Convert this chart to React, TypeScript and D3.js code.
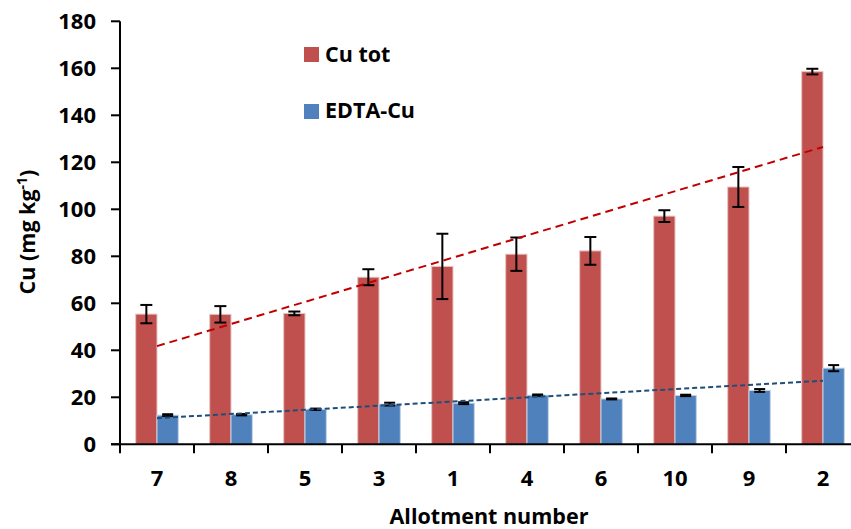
import React from "react";
import * as d3 from "d3";

const categories = ["7", "8", "5", "3", "1", "4", "6", "10", "9", "2"];
const cuTot = [55.4, 55.3, 55.7, 71.1, 75.7, 80.9, 82.3, 97.1, 109.5, 158.6];
const cuTotErr = [3.9, 3.5, 0.8, 3.4, 13.9, 7.1, 5.9, 2.5, 8.5, 1.2];
const edtaCu = [12.4, 12.6, 14.9, 17.1, 17.5, 20.9, 19.3, 20.8, 22.9, 32.4];
const edtaCuErr = [0.4, 0.3, 0.3, 0.6, 0.4, 0.3, 0.2, 0.3, 0.6, 1.3];
const yTicks = [0, 20, 40, 60, 80, 100, 120, 140, 160, 180];

const RED = "#C0504D";
const BLUE = "#4F81BD";
const FONT = "'Open Sans', 'DejaVu Sans', sans-serif";

function linFit(vals: number[]) {
  const n = vals.length;
  const xs = vals.map((_, i) => i + 1);
  const mx = d3.mean(xs) as number;
  const my = d3.mean(vals) as number;
  let sxy = 0, sxx = 0;
  xs.forEach((x, i) => { sxy += (x - mx) * (vals[i] - my); sxx += (x - mx) * (x - mx); });
  const b = sxy / sxx;
  const a = my - b * mx;
  return [a + b * 1, a + b * n];
}

export default function App() {
  const W = 851, H = 529;
  const x = d3.scaleBand<string>().domain(categories).range([120, 860]).padding(0);
  const y = d3.scaleLinear().domain([0, 180]).range([444.3, 21.3]);
  const bw = 21.3;
  const cx = (c: string) => (x(c) as number) + x.bandwidth() / 2;

  const redFit = linFit(cuTot);
  const blueFit = linFit(edtaCu);
  const first = categories[0], last = categories[categories.length - 1];
  const line = d3.line<[number, number]>().x(d => d[0]).y(d => d[1]);

  const errBar = (xc: number, v: number, e: number, key: string, cap: number) => (
    <g key={key} stroke="#000" strokeWidth={2}>
      <line x1={xc} x2={xc} y1={y(v + e)} y2={y(v - e)} />
      <line x1={xc - cap / 2} x2={xc + cap / 2} y1={y(v + e)} y2={y(v + e)} />
      <line x1={xc - cap / 2} x2={xc + cap / 2} y1={y(v - e)} y2={y(v - e)} />
    </g>
  );

  return (
    <svg width={W} height={H} style={{ position: "absolute", left: 0, top: 0, background: "#fff" }}
      fontFamily={FONT} fontWeight="bold">
      <rect x={0} y={0} width={W} height={H} fill="#fff" />
      {categories.map((c, i) => (
        <g key={"b" + c}>
          <rect x={cx(c) - bw} y={y(cuTot[i])} width={bw} height={y(0) - y(cuTot[i])}
            fill={RED} stroke="#E8C4C3" strokeWidth={1} />
          <rect x={cx(c)} y={y(edtaCu[i])} width={bw} height={y(0) - y(edtaCu[i])}
            fill={BLUE} stroke="#C3D3E8" strokeWidth={1} />
        </g>
      ))}
      {categories.map((c, i) => errBar(cx(c) - bw / 2, cuTot[i], cuTotErr[i], "er" + c, 12))}
      {categories.map((c, i) => errBar(cx(c) + bw / 2, edtaCu[i], edtaCuErr[i], "eb" + c, 11))}
      <path d={line([[cx(first), y(redFit[0])], [cx(last), y(redFit[1])]]) as string}
        fill="none" stroke="#C00000" strokeWidth={2} strokeDasharray="8,5" />
      <path d={line([[cx(first), y(blueFit[0])], [cx(last), y(blueFit[1])]]) as string}
        fill="none" stroke="#1F4E79" strokeWidth={2} strokeDasharray="5,3" />
      <line x1={120} x2={120} y1={y(180)} y2={y(0)} stroke="#000" strokeWidth={2} />
      {yTicks.map(t => (
        <g key={"yt" + t}>
          <line x1={111} x2={120} y1={y(t)} y2={y(t)} stroke="#000" strokeWidth={2} />
          <text x={96} y={y(t)} dy="0.36em" textAnchor="end" fontSize={22} fill="#000">{t}</text>
        </g>
      ))}
      <line x1={111} x2={860} y1={y(0)} y2={y(0)} stroke="#000" strokeWidth={2} />
      {categories.map(c => (
        <line key={"xt" + c} x1={x(c) as number} x2={x(c) as number} y1={y(0)} y2={y(0) + 9}
          stroke="#000" strokeWidth={2} />
      ))}
      {categories.map(c => (
        <text key={"xl" + c} x={cx(c)} y={486} textAnchor="middle" fontSize={22} fill="#000">{c}</text>
      ))}
      <text x={489} y={524} textAnchor="middle" fontSize={21.5} fill="#000">Allotment number</text>
      <text transform={`translate(35,232) rotate(-90)`} textAnchor="middle" fontSize={21.5} fill="#000">
        Cu (mg kg<tspan dy={-8} fontSize={14}>-1</tspan><tspan dy={8}>)</tspan>
      </text>
      <rect x={304} y={47} width={15} height={15} fill={RED} />
      <text x={325} y={62} fontSize={21.5} fill="#000">Cu tot</text>
      <rect x={304} y={104} width={15} height={15} fill={BLUE} />
      <text x={325} y={118} fontSize={21.5} fill="#000">EDTA-Cu</text>
    </svg>
  );
}
